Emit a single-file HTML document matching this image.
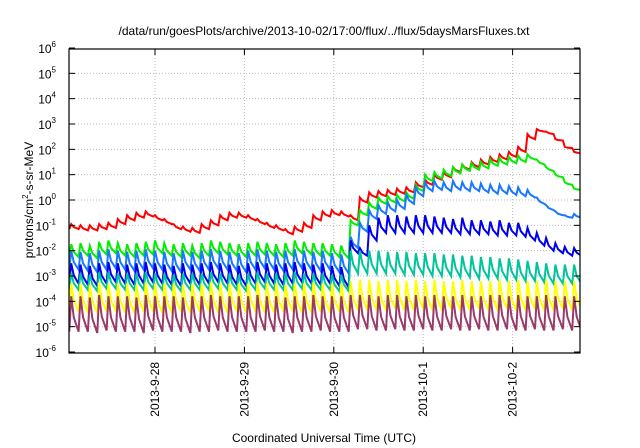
<!DOCTYPE html>
<html><head><meta charset="utf-8"><style>
html,body{margin:0;padding:0;background:#fff;}
svg{display:block;font-family:"Liberation Sans",sans-serif;}
</style></head><body>
<svg id="chart" width="640" height="448" viewBox="0 0 640 448" xmlns="http://www.w3.org/2000/svg">
<text x="324" y="35" font-size="12" text-anchor="middle">/data/run/goesPlots/archive/2013-10-02/17:00/flux/../flux/5daysMarsFluxes.txt</text>
<text transform="translate(33,200) rotate(-90)" font-size="12" text-anchor="middle">protons/cm<tspan font-size="8" dy="-5">2</tspan><tspan dy="5">-s-sr-MeV</tspan></text>
<text x="324" y="442" font-size="12" text-anchor="middle">Coordinated Universal Time (UTC)</text>
<g id="grid"></g><g id="series"></g><g id="axes"></g>
</svg>
<script>
const dayLabels = ["2013-9-28","2013-9-29","2013-9-30","2013-10-1","2013-10-2"];
const yExponents = [-6,-5,-4,-3,-2,-1,0,1,2,3,4,5,6];
const seriesNames = ["red","green","lightblue","blue","teal","yellow","purple"];
const seriesColors = ["#ff0000","#00ee00","#1878ff","#0000ee","#00c49a","#ffff00","#9a3a6a"];
// log10 flux at each tooth peak and at the end of its decay (55 teeth, 2.5 h apart)
const redPeak = [-0.95,-1.0,-1.0,-0.95,-0.9,-0.75,-0.6,-0.5,-0.45,-0.6,-0.75,-0.95,-1.05,-1.1,-0.95,-0.8,-0.6,-0.5,-0.5,-0.6,-0.75,-0.9,-1.0,-1.15,-1.05,-0.9,-0.6,-0.45,-0.4,-0.45,-0.6,
 0.1,0.3,0.35,0.4,0.45,0.5,0.7,0.8,1.0,1.1,1.3,1.4,1.5,1.6,1.7,1.8,1.9,2.1,2.6,2.8,2.7,2.4,2.1,1.9];
const redTrough = [-1.15,-1.2,-1.2,-1.15,-1.1,-0.95,-0.8,-0.7,-0.65,-0.8,-0.95,-1.15,-1.25,-1.3,-1.15,-1.0,-0.8,-0.7,-0.7,-0.8,-0.95,-1.1,-1.2,-1.35,-1.25,-1.1,-0.8,-0.65,-0.6,-0.65,-0.8,
 -0.1,0.1,0.15,0.2,0.25,0.3,0.5,0.6,0.8,0.9,1.1,1.2,1.3,1.4,1.5,1.6,1.7,1.9,2.4,2.7,2.6,2.35,2.05,1.85];
const greenPeak = [-1.75,-1.7,-1.8,-1.65,-1.6,-1.7,-1.75,-1.7,-1.65,-1.6,-1.7,-1.75,-1.7,-1.8,-1.7,-1.6,-1.65,-1.7,-1.75,-1.7,-1.65,-1.7,-1.75,-1.7,-1.6,-1.65,-1.7,-1.7,-1.75,-1.8,-0.8,
 -0.4,-0.1,0.1,0.15,0.2,0.3,0.6,1.0,1.1,1.2,1.3,1.4,1.45,1.5,1.6,1.65,1.7,1.75,1.8,1.6,1.3,1.0,0.7,0.45];
const greenTrough = [-2.25,-2.2,-2.3,-2.15,-2.1,-2.2,-2.25,-2.2,-2.15,-2.1,-2.2,-2.25,-2.2,-2.3,-2.2,-2.1,-2.15,-2.2,-2.25,-2.2,-2.15,-2.2,-2.25,-2.2,-2.1,-2.15,-2.2,-2.2,-2.25,-2.3,-1.0,
 -0.6,-0.35,-0.15,-0.1,-0.05,0.05,0.35,0.75,0.85,0.95,1.05,1.15,1.2,1.25,1.35,1.4,1.45,1.5,1.6,1.4,1.15,0.9,0.6,0.4];
const lbluePeak = [-2.0,-2.05,-2.1,-2.0,-1.95,-2.0,-2.05,-2.0,-1.95,-2.0,-2.05,-2.1,-2.0,-2.05,-2.0,-1.95,-2.0,-2.05,-2.1,-2.0,-1.95,-2.0,-2.05,-2.0,-1.95,-2.0,-2.05,-2.0,-2.1,-2.15,-1.45,
 -0.9,-0.4,-0.2,-0.1,0.0,0.2,0.5,0.7,0.75,0.7,0.75,0.7,0.7,0.65,0.6,0.6,0.55,0.5,0.4,0.1,-0.2,-0.45,-0.6,-0.55];
const lblueTrough = [-2.75,-2.8,-2.85,-2.75,-2.7,-2.75,-2.8,-2.75,-2.7,-2.75,-2.8,-2.85,-2.75,-2.8,-2.75,-2.7,-2.75,-2.8,-2.85,-2.75,-2.7,-2.75,-2.8,-2.75,-2.7,-2.75,-2.8,-2.75,-2.85,-2.9,-1.9,
 -1.25,-0.75,-0.55,-0.45,-0.35,-0.15,0.15,0.35,0.4,0.35,0.4,0.35,0.35,0.3,0.25,0.25,0.2,0.15,0.1,-0.15,-0.4,-0.6,-0.7,-0.7];
const bluePeak = [-2.5,-2.55,-2.6,-2.5,-2.45,-2.5,-2.55,-2.5,-2.45,-2.5,-2.55,-2.6,-2.5,-2.55,-2.5,-2.45,-2.5,-2.55,-2.6,-2.5,-2.45,-2.5,-2.55,-2.5,-2.45,-2.5,-2.55,-2.5,-2.6,-2.65,-1.6,
 -1.9,-1.0,-0.7,-0.6,-0.6,-0.65,-0.6,-0.6,-0.65,-0.7,-0.75,-0.7,-0.8,-0.8,-0.85,-0.8,-0.9,-0.9,-1.1,-1.3,-1.5,-1.7,-1.85,-1.9];
const blueTrough = [-3.3,-3.35,-3.4,-3.3,-3.25,-3.3,-3.35,-3.3,-3.25,-3.3,-3.35,-3.4,-3.3,-3.35,-3.3,-3.25,-3.3,-3.35,-3.4,-3.3,-3.25,-3.3,-3.35,-3.3,-3.25,-3.3,-3.35,-3.3,-3.4,-3.45,-2.1,
 -2.2,-1.6,-1.3,-1.3,-1.3,-1.3,-1.3,-1.3,-1.3,-1.3,-1.35,-1.35,-1.35,-1.35,-1.4,-1.4,-1.4,-1.45,-1.6,-1.8,-2.0,-2.1,-2.2,-2.2];
const tealPeak = [-2.9,-2.9,-2.95,-2.85,-2.85,-2.9,-2.9,-2.9,-2.85,-2.9,-2.9,-2.95,-2.9,-2.9,-2.9,-2.85,-2.9,-2.9,-2.95,-2.9,-2.85,-2.9,-2.9,-2.9,-2.85,-2.9,-2.9,-2.9,-2.95,-2.95,-2.0,
 -2.0,-2.0,-2.0,-2.05,-2.05,-2.05,-2.1,-2.1,-2.1,-2.15,-2.15,-2.2,-2.2,-2.25,-2.25,-2.3,-2.3,-2.35,-2.4,-2.45,-2.5,-2.55,-2.55,-2.55];
const tealTrough = [-3.55,-3.55,-3.6,-3.5,-3.5,-3.55,-3.55,-3.55,-3.5,-3.55,-3.55,-3.6,-3.55,-3.55,-3.55,-3.5,-3.55,-3.55,-3.6,-3.55,-3.5,-3.55,-3.55,-3.55,-3.5,-3.55,-3.55,-3.55,-3.6,-3.6,-2.9,
 -2.9,-2.9,-2.9,-2.9,-2.95,-2.95,-2.95,-3.0,-3.0,-3.0,-3.05,-3.05,-3.1,-3.1,-3.1,-3.15,-3.15,-3.2,-3.2,-3.25,-3.3,-3.3,-3.3,-3.3];
const yellowPeak = [-3.3,-3.3,-3.35,-3.25,-3.3,-3.3,-3.3,-3.35,-3.25,-3.3,-3.3,-3.3,-3.35,-3.3,-3.3,-3.25,-3.3,-3.3,-3.3,-3.3,-3.25,-3.3,-3.3,-3.35,-3.3,-3.3,-3.25,-3.3,-3.3,-3.3,-3.2,
 -3.15,-3.15,-3.2,-3.15,-3.15,-3.2,-3.15,-3.2,-3.15,-3.2,-3.2,-3.15,-3.2,-3.2,-3.2,-3.15,-3.2,-3.15,-3.2,-3.2,-3.15,-3.2,-3.2,-3.2];
const yellowTrough = [-4.4,-4.45,-4.45,-4.4,-4.4,-4.45,-4.45,-4.4,-4.4,-4.45,-4.45,-4.4,-4.45,-4.4,-4.4,-4.45,-4.45,-4.4,-4.45,-4.4,-4.45,-4.45,-4.4,-4.4,-4.45,-4.45,-4.4,-4.45,-4.4,-4.45,-4.35,
 -4.35,-4.35,-4.35,-4.3,-4.35,-4.35,-4.3,-4.35,-4.35,-4.3,-4.35,-4.35,-4.3,-4.35,-4.35,-4.3,-4.35,-4.35,-4.3,-4.35,-4.35,-4.3,-4.35,-4.35];
const purplePeak = [-3.8,-3.8,-3.85,-3.75,-3.8,-3.8,-3.8,-3.85,-3.75,-3.8,-3.8,-3.8,-3.85,-3.8,-3.8,-3.75,-3.8,-3.8,-3.8,-3.8,-3.75,-3.8,-3.8,-3.85,-3.8,-3.8,-3.75,-3.8,-3.8,-3.8,-3.75,
 -3.75,-3.75,-3.8,-3.75,-3.75,-3.8,-3.75,-3.8,-3.75,-3.8,-3.8,-3.75,-3.8,-3.8,-3.75,-3.75,-3.8,-3.75,-3.8,-3.8,-3.75,-3.8,-3.8,-3.8];
const purpleTrough = [-5.2,-5.2,-5.25,-5.15,-5.2,-5.2,-5.2,-5.25,-5.15,-5.2,-5.2,-5.2,-5.25,-5.2,-5.2,-5.15,-5.2,-5.2,-5.2,-5.2,-5.15,-5.2,-5.2,-5.25,-5.2,-5.2,-5.15,-5.2,-5.2,-5.2,-5.1,
 -5.1,-5.15,-5.15,-5.1,-5.15,-5.15,-5.1,-5.15,-5.15,-5.1,-5.15,-5.15,-5.1,-5.15,-5.15,-5.1,-5.15,-5.15,-5.1,-5.15,-5.15,-5.1,-5.15,-5.15];
const peaks = [redPeak,greenPeak,lbluePeak,bluePeak,tealPeak,yellowPeak,purplePeak];
const troughs = [redTrough,greenTrough,lblueTrough,blueTrough,tealTrough,yellowTrough,purpleTrough];
const startHour = -23, toothHours = 2.5, riseHours = 0.5;

const L=69,R=580,T=49,B=353;
const hx = h => 155 + h/24*89.4;
const ly = e => 200 - e*(B-T)/12;
const NS="http://www.w3.org/2000/svg";
function mk(tag,attrs,parent){const el=document.createElementNS(NS,tag);for(const k in attrs)el.setAttribute(k,attrs[k]);parent.appendChild(el);return el;}
const grid=document.getElementById('grid'),axes=document.getElementById('axes'),ser=document.getElementById('series');
yExponents.forEach(e=>{
  const y=ly(e);
  if(e>-6&&e<6){const g=mk('line',{x1:L,x2:R,y1:y,y2:y,stroke:'#bbb','stroke-dasharray':'1,2','stroke-width':1},grid);
  
  }
  const t1=mk('line',{x1:L,x2:L+6,y1:y,y2:y,stroke:'#000'},axes);
  
  
  const t2=mk('line',{x1:R-6,x2:R,y1:y,y2:y,stroke:'#000'},axes);
  
  
  const tx=mk('text',{x:56,y:y+5,'font-size':12,'text-anchor':'end'},axes);
  
  
  tx.textContent='10';
  const sp=mk('tspan',{'font-size':8,dy:-6},tx);sp.textContent=String(e);
});
dayLabels.forEach((d,i)=>{
  const x=hx(i*24);
  const g=mk('line',{x1:x,x2:x,y1:T,y2:B,stroke:'#bbb','stroke-dasharray':'1,2'},grid);
  
  
  const t1=mk('line',{x1:x,x2:x,y1:B-6,y2:B,stroke:'#000'},axes);
  
  
  const t2=mk('line',{x1:x,x2:x,y1:T,y2:T+6,stroke:'#000'},axes);
  
  
  const tx=mk('text',{transform:`translate(${x+4},362) rotate(-90)`,'font-size':12,'text-anchor':'end'},axes);
  
  
  tx.textContent=d;
});
const frame=mk('rect',{x:L,y:T,width:R-L,height:B-T,fill:'none',stroke:'#000','stroke-width':1.2},axes);


const clip=mk('clipPath',{id:'pc'},document.getElementById('chart'));
mk('rect',{x:L,y:T,width:R-L,height:B-T},clip);
ser.setAttribute('clip-path','url(#pc)');
peaks.forEach((pk,s)=>{
  const tr=troughs[s];let pts=[];
  for(let k=0;k<pk.length;k++){
    const h0=startHour+k*toothHours;
    pts.push(hx(h0).toFixed(1)+','+ly(k>0?tr[k-1]:tr[k]).toFixed(1));
    pts.push(hx(h0+riseHours).toFixed(1)+','+ly(pk[k]).toFixed(1));
    const hm=h0+riseHours+0.35*(toothHours-riseHours);
    pts.push(hx(hm).toFixed(1)+','+ly(pk[k]+0.6*(tr[k]-pk[k])).toFixed(1));
  }
  pts.push(hx(startHour+pk.length*toothHours).toFixed(1)+','+ly(tr[pk.length-1]).toFixed(1));
  const p=mk('polyline',{points:pts.join(' '),fill:'none',stroke:seriesColors[s],'stroke-width':2,'stroke-linejoin':'miter'},ser);
  
  
});
</script>
</body></html>
